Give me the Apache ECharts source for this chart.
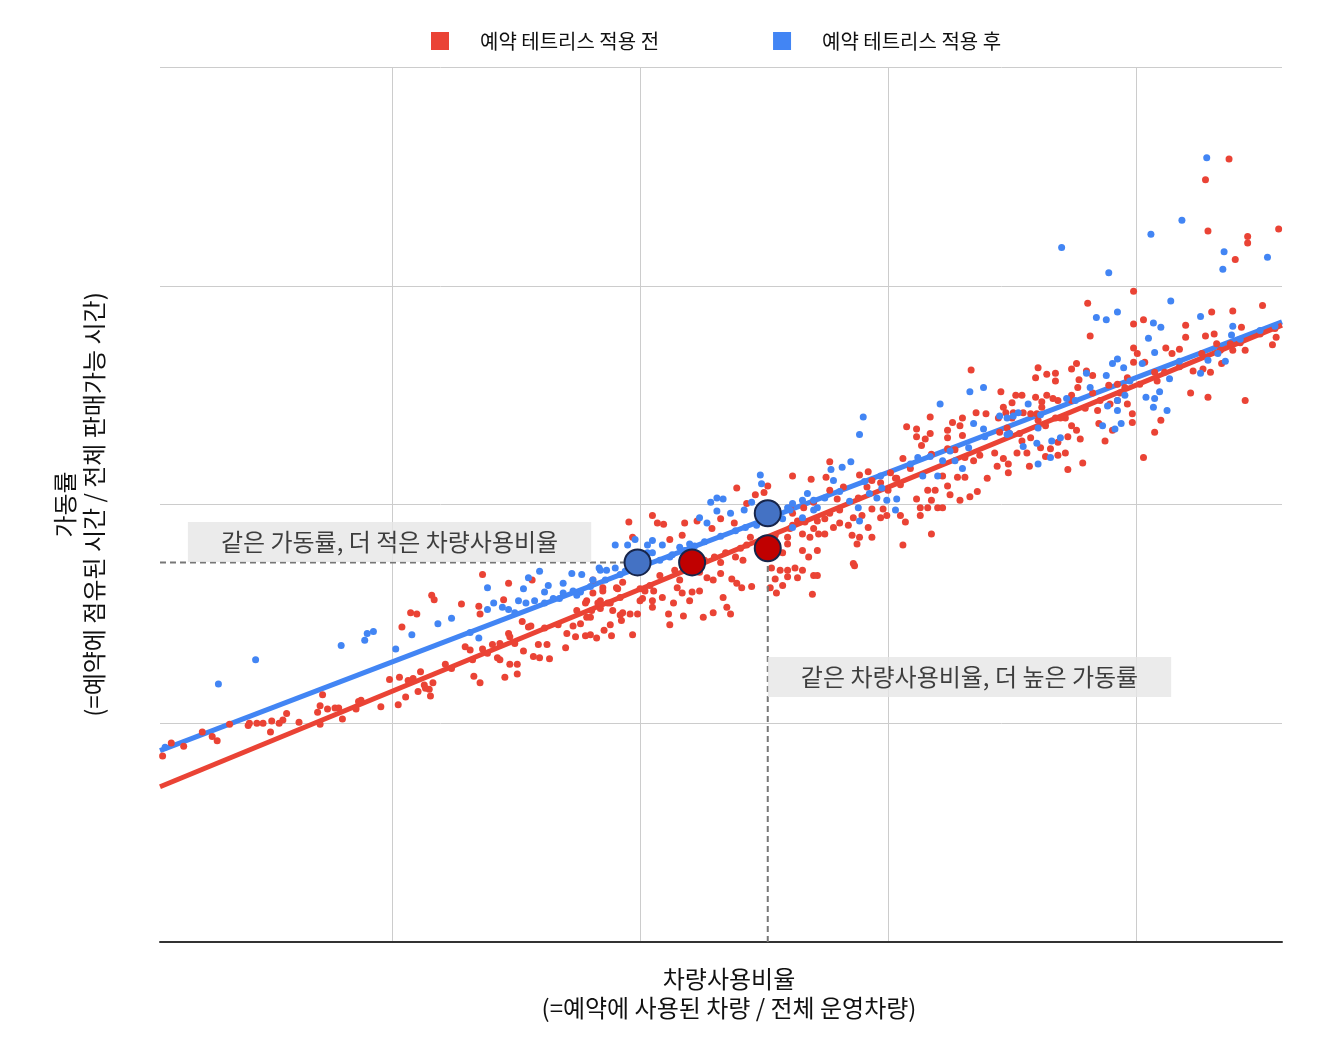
<!DOCTYPE html>
<html>
<head>
<meta charset="utf-8">
<title>예약 테트리스 적용 전후</title>
<script src="https://cdn.jsdelivr.net/npm/echarts@6/dist/echarts.min.js"></script>
<style>
  html, body { margin: 0; padding: 0; background: #fff; }
  #chart { width: 1326px; height: 1043px; }
</style>
</head>
<body>
<div id="chart"></div>
<script>
const FONT = '"Noto Sans CJK KR", "Noto Sans", sans-serif'

// 축 범위와 세로 격자 위치 (값 단위)
const X_MIN = 1.29
const X_MAX = 91.77
const X_GRID = [20, 40, 60, 80]
const Y_MIN = 0
const Y_MAX = 80

const SERIES_NAMES = ['예약 테트리스 적용 전', '예약 테트리스 적용 후']

// 적용 전 (빨강) [차량사용비율, 가동률]
const before = [
  [1.5,17.0],[2.2,18.2],[3.2,17.9],[4.7,19.2],[5.5,18.8],[5.9,18.4],[6.9,19.9],[8.4,19.8],[8.5,20.0],[9.1,20.0],
  [9.6,20.0],[10.2,19.2],[10.3,20.2],[10.9,20.0],[11.2,20.3],[11.5,20.9],[12.5,20.1],[14.0,21.0],[14.2,21.6],[14.4,22.6],
  [14.2,19.9],[14.8,21.3],[15.4,21.4],[15.7,21.4],[16.0,20.4],[17.1,21.3],[17.3,22.0],[17.5,22.1],[19.1,21.5],[19.8,24.0],
  [20.5,21.7],[20.6,24.2],[20.8,28.8],[21.1,22.4],[21.3,23.9],[21.7,24.1],[21.5,30.1],[22.0,30.0],[22.1,22.9],[22.3,24.7],
  [22.6,23.5],[23.0,23.1],[23.1,22.5],[23.2,31.7],[23.4,31.3],
  [27.3,33.6],[29.4,32.8],[31.3,33.1],[25.6,30.9],[27.0,30.7],[27.1,30.0],[29.0,31.3],[30.5,29.3],[31.0,28.8],[31.2,28.9],
  [29.4,28.2],[29.5,27.9],[28.7,27.3],[27.3,26.8],[27.7,26.4],[25.9,27.0],[26.3,26.7],[26.5,25.8],[28.5,26.0],[28.7,25.8],
  [29.5,25.4],[30.1,25.4],[30.6,26.6],[31.4,26.1],[31.9,26.0],[31.8,27.2],[32.5,27.2],[32.7,25.9],[30.1,24.5],[29.1,24.2],
  [26.6,24.3],[27.1,23.7],[23.3,23.7],[22.7,23.2],[34.0,26.9],[34.1,28.2],[34.8,27.9],[34.6,28.9],[35.2,29.1],[35.7,29.7],
  [36.1,30.3],[35.6,28.0],[36.0,28.1],[36.5,27.8],[37.1,28.5],[37.6,29.0],[37.8,30.3],[38.4,29.9],[38.5,29.4],[39.4,28.1],
  [39.2,30.0],[39.8,30.0],[36.8,31.2],[37.0,32.1],[35.7,31.2],[38.2,32.3],[38.6,32.9],[40.0,31.2],[40.4,32.1],[39.4,37.0],
  [39.1,38.4],[34.9,30.3],[24.3,25.4],[24.8,25.0],[28.1,27.2],[29.9,27.3],[32.3,28.7],[33.4,29.0],[36.8,30.5],[37.6,31.0],
  [41.0,39.0],[41.4,38.3],[41.9,38.2],[42.4,36.8],[43.4,37.2],[43.6,38.3],[44.6,38.5],[47.8,41.5],[49.3,40.9],[50.0,41.1],
  [50.3,41.7],[52.3,42.6],[53.8,42.3],[48.6,40.1],[47.6,38.3],[45.8,37.8],[46.5,38.7],[36.2,33.1],[37.0,32.4],[36.2,31.9],
  [35.6,31.0],[38.1,32.4],[36.6,31.0],[37.4,31.0],[41.0,31.2],[40.2,31.4],[38.4,31.5],[38.6,30.1],[36.0,29.7],[37.7,28.0],
  [42.3,30.0],[42.4,29.0],[43.5,29.8],[41.8,31.5],[42.7,31.0],[43.0,32.4],[41.0,30.6],[41.1,32.1],[44.0,31.2],[43.4,31.9],
  [45.1,29.7],[45.9,30.1],[44.2,32.0],[44.8,32.1],[46.7,31.5],[47.0,30.6],[47.3,30.0],[47.8,32.8],[48.2,32.4],[49.0,32.5],
  [45.4,33.3],[45.9,33.1],[46.5,33.7],[47.4,33.2],[48.3,34.9],[48.6,36.3],[48.9,37.0],[50.6,34.2],[51.3,34.0],[50.5,32.4],
  [51.5,32.6],[51.9,33.4],[51.0,31.9],[50.9,33.2],[52.7,33.3],[53.1,34.0],[54.0,33.5],[53.1,35.8],[53.6,35.2],[54.3,35.8],
  [53.9,31.8],[51.5,35.6],[51.9,36.4],[52.3,39.2],[52.1,39.7],[52.7,38.5],[53.7,37.0],[54.0,37.8],
  [41.6,33.5],[42.8,34.0],[44.0,34.4],[45.2,34.9],[46.0,35.2],[46.9,35.6],[48.1,36.0],[49.7,36.7],[50.9,37.2],[52.1,37.8],
  [53.3,38.4],[43.2,33.1],[44.8,33.8],[46.5,34.7],[47.7,35.2],[40.8,32.6],[40.0,32.3],
  [70.0,49.3],[61.5,47.1],[62.3,46.9],[63.0,46.0],[62.3,46.2],[63.4,46.5],[63.4,48.0],[62.7,45.4],[64.8,46.8],[65.2,47.5],
  [66.0,47.9],[65.8,47.2],[66.0,46.3],[64.8,46.1],[67.1,48.4],[67.9,48.3],[68.9,47.9],[69.3,48.9],[61.2,44.2],[61.8,43.3],
  [60.7,42.4],[63.5,44.6],[64.8,45.1],[65.4,45.0],[66.2,44.3],[65.6,42.5],[66.2,42.5],[66.9,44.0],[67.4,44.5],[68.6,44.7],
  [64.4,42.6],[64.8,41.7],[63.8,41.3],[63.2,41.3],[62.3,40.5],[62.6,39.7],[62.6,39.0],[63.2,39.7],[64.0,39.7],[64.4,39.7],
  [63.5,40.4],[65.0,40.9],[65.8,40.4],[66.6,40.7],[67.2,41.2],[68.0,42.4],[68.8,43.5],[69.3,44.2],[69.7,43.7],[70.4,44.7],
  [69.7,42.9],[63.5,37.3],[61.2,36.3],[55.0,42.5],[55.3,43.9],[57.7,42.7],[58.4,43.0],[58.7,42.2],[59.4,42.0],[60.2,42.9],
  [60.6,42.4],[61.0,41.8],[60.0,41.3],[55.3,41.3],[55.9,40.5],[56.4,41.6],[57.6,40.6],[58.3,41.6],[54.0,40.2],[53.2,39.7],
  [56.1,39.5],[55.3,39.2],[54.9,38.7],[54.3,38.5],[52.3,38.1],[57.2,38.8],[57.9,39.0],[58.7,39.6],[59.4,38.8],[59.9,39.0],
  [61.0,39.0],[61.4,38.4],[59.6,39.6],[55.6,37.9],[56.1,38.3],[56.8,38.1],[57.1,37.2],[57.7,37.0],[58.4,37.9],[57.5,36.4],
  [58.7,37.0],[54.4,37.3],[54.9,37.3],[53.1,37.3],[51.9,37.0],[52.5,34.2],[51.9,34.0],[54.3,33.5],[57.2,34.6],[57.3,34.4],
  [66.7,52.3],[69.1,50.3],[70.3,50.0],[69.5,48.4],
  [76.3,55.4],[79.8,54.3],[80.1,53.8],[79.8,53.0],[80.7,53.0],[82.4,54.3],[82.9,53.8],[83.5,54.2],[84.0,55.3],[85.6,55.4],
  [86.3,55.6],[85.3,53.8],[86.5,54.7],[86.9,52.9],[87.6,54.7],[87.8,54.1],[88.8,54.1],[91.0,54.6],[84.6,52.2],[85.4,52.4],
  [86.0,52.1],[84.4,50.2],[85.8,49.8],[88.8,49.5],[81.5,46.6],[82.0,47.7],[80.6,44.3],[79.3,51.6],[79.7,48.3],[79.7,47.5],
  [79.3,49.2],[81.7,51.3],[81.5,52.1],[72.1,52.5],[72.8,51.9],[73.5,52.0],[73.5,51.3],[71.9,51.6],[74.8,52.4],[75.2,52.9],
  [76.0,52.2],[76.5,51.8],[75.4,51.4],[75.3,50.7],[70.8,50.0],[71.9,49.8],[72.4,49.4],[72.8,50.0],[73.3,49.7],[73.7,49.5],
  [74.8,50.0],[74.8,49.5],[76.5,50.2],[70.1,48.4],[70.0,47.9],[70.9,48.4],[71.5,48.3],[72.0,48.3],[72.4,48.9],[72.1,47.7],
  [73.5,47.9],[74.3,47.9],[69.0,46.6],[69.6,47.0],[69.8,46.5],[70.8,45.8],[71.5,46.1],[74.8,47.2],[75.2,46.8],[75.5,46.0],
  [74.5,46.2],[76.9,48.6],[77.0,47.4],[77.5,45.8],[77.9,49.2],[78.1,46.8],[78.5,49.5],[72.3,45.2],[73.1,45.1],[73.7,45.7],
  [74.3,44.7],[73.7,44.5],[72.7,44.4],[71.2,44.7],[71.4,43.5],[74.5,43.2],[75.7,43.8],[77.8,50.9],[78.5,51.0],[79.1,50.7],
  [70.6,46.5],[72.7,47.2],[73.9,47.9],[75.9,48.8],[77.1,49.5],[78.7,50.2],[80.3,51.0],[82.3,52.1],[83.5,52.6],[86.8,54.1],
  [88.4,54.8],[90.0,55.6],[91.2,56.1],
  [87.5,71.6],[85.6,69.7],[85.8,65.0],[89.0,64.5],[89.0,63.9],[88.0,62.4],[91.5,65.2],[79.8,59.5],[76.1,58.4],[79.8,56.5],
  [80.6,56.9],[84.0,56.4],[86.1,57.6],[87.8,57.7],[90.2,58.2],[88.5,56.2],[91.3,55.3]
]

// 적용 후 (파랑)
const after = [
  [1.7,17.8],[6.0,23.6],[9.0,25.8],[15.9,27.1],[17.8,27.6],[18.0,28.2],[18.5,28.4],[20.3,26.8],[21.6,28.1],[23.7,29.1],
  [24.8,29.6],[27.0,27.8],[27.7,30.4],[28.2,31.0],[27.7,32.4],[28.9,30.6],[29.4,30.4],[30.2,31.2],[30.8,31.0],[30.6,32.3],
  [31.0,33.3],[31.5,31.2],[31.9,33.9],[32.3,32.0],[32.6,32.6],[33.0,31.4],[33.8,32.8],[33.8,31.9],[34.5,33.7],[35.3,33.6],
  [34.6,32.1],[35.2,32.0],[36.2,33.1],[36.8,34.0],[37.3,34.0],[38.0,34.2],[38.0,36.3],[39.0,36.3],[39.4,34.0],[40.6,36.3],
  [41.0,35.6],[26.3,28.3],[29.9,30.1],[32.3,31.0],[33.5,31.4],[34.9,31.7],[36.0,32.5],[37.2,33.1],[38.4,33.6],
  [49.7,42.7],[49.8,41.9],[45.7,40.2],[46.2,40.6],[46.7,40.5],[46.2,39.4],[47.3,39.2],[48.4,39.5],[49.0,40.2],[44.8,38.8],
  [45.4,38.3],[39.6,36.8],[41.0,36.7],[40.6,35.6],[42.6,35.4],[41.8,36.3],[36.7,34.2],[43.2,36.1],[44.0,36.4],[52.3,40.1],
  [53.1,40.4],[53.5,41.0],[54.0,40.4],[54.3,39.7],[51.5,38.7],[52.3,37.9],[49.4,38.1],
  [41.6,34.9],[42.4,35.2],[43.6,35.8],[44.4,36.2],[45.2,36.6],[46.5,37.1],[47.7,37.6],[48.5,37.9],[50.9,39.0],[52.1,39.5],
  [40.0,34.3],[38.8,33.9],
  [64.2,49.2],[58.0,48.0],[57.7,46.4],[57.0,43.9],[56.3,43.4],[55.4,43.2],[55.6,42.2],[51.9,39.7],[56.9,40.3],[57.6,39.7],
  [57.7,38.5],[58.5,41.0],[59.5,41.5],[59.1,40.6],[59.9,40.4],[60.7,40.5],[60.6,39.5],[62.4,44.3],[62.8,42.6],[64.0,42.6],
  [64.4,44.0],[65.4,44.0],[66.0,43.3],[66.5,45.2],[66.9,47.4],[67.7,46.9],[69.0,48.1],[70.1,48.1],[69.8,46.5],[54.0,39.5],
  [53.1,38.8],[54.9,40.6],[56.1,41.2],[58.1,42.1],[59.4,42.6],[61.8,43.7],[63.4,44.4],[65.0,44.9],[67.8,46.2],
  [66.6,50.3],[67.7,50.7],
  [81.0,55.2],[81.5,53.9],[80.5,52.9],[78.1,52.9],[78.5,53.3],[79.0,52.5],[77.6,51.8],[76.3,50.7],[76.0,52.0],[81.9,50.3],
  [81.5,49.7],[80.8,49.8],[81.4,48.9],[82.5,48.6],[82.7,51.5],[85.2,52.0],[85.8,53.2],[86.6,53.8],[87.2,53.1],[87.7,55.5],
  [88.4,55.1],[78.5,49.5],[78.5,48.6],[79.1,50.0],[77.7,49.0],[77.3,47.2],[78.3,46.9],[78.8,47.4],[74.4,49.7],[71.3,49.2],
  [70.5,48.4],[69.6,47.9],[69.6,46.4],[72.1,47.0],[72.0,45.6],[73.2,45.8],[73.9,46.1],[73.1,44.3],[72.1,43.7],[70.9,45.3],
  [72.3,48.2],[75.1,49.5],[79.5,51.3],[83.5,53.1],[90.0,55.9],[91.2,56.3],
  [85.7,71.7],[83.7,66.0],[81.2,64.7],[74.0,63.5],[77.8,61.2],[87.1,63.1],[87.0,61.5],[90.6,62.6],[82.8,58.6],[78.5,57.6],
  [76.8,57.1],[77.6,56.9],[81.4,56.6],[82.0,56.2],[85.2,57.2],[87.8,56.3]
]

// 추세선 끝점
const trendBefore = [[X_MIN, 14.2], [X_MAX, 56.4]]
const trendAfter = [[X_MIN, 17.5], [X_MAX, 56.7]]

// 강조 지점
const markAfter = [[39.8, 34.7], [50.3, 39.2]]
const markBefore = [[44.2, 34.7], [50.3, 36.0]]

// 보조 점선
const guideH = [[X_MIN, 34.7], [39.8, 34.7]]
const guideV = [[50.3, 0], [50.3, 36.0]]

// 주석
const notes = [
  { text: '같은 가동률, 더 적은 차량사용비율', at: [19.8, 34.7], pos: 'top' },
  { text: '같은 차량사용비율, 더 높은 가동률', at: [66.57, 26.1], pos: 'bottom' }
]

const RED = '#ea4335'
const BLUE = '#4285f4'
const INK = '#111'

function lineSeries(data, color, width, z, dash) {
  return {
    type: 'line', data, symbol: 'none', silent: true, z,
    lineStyle: { color, width, type: dash || 'solid' },
    emphasis: { disabled: true }
  }
}

function markSeries(data, color) {
  return {
    type: 'scatter', data, symbolSize: 26, z: 10, silent: true,
    itemStyle: { color, borderColor: '#17254a', borderWidth: 2, opacity: 1 }
  }
}

const chart = echarts.init(document.getElementById('chart'))

chart.setOption({
  animation: false,
  textStyle: { fontFamily: FONT },
  grid: { left: 160, right: 44, top: 67, bottom: 101, containLabel: false, outerBoundsMode: 'none' },
  legend: {
    data: SERIES_NAMES,
    left: 426, top: 26,
    icon: 'rect', itemWidth: 18, itemHeight: 18, itemGap: 114,
    textStyle: { fontSize: 20, color: INK, fontFamily: FONT, padding: [0, 0, 0, 26] }
  },
  xAxis: {
    type: 'value', min: X_MIN, max: X_MAX,
    name: '차량사용비율\n(=예약에 사용된 차량 / 전체 운영차량)',
    nameLocation: 'middle', nameGap: 22,
    nameTextStyle: { fontSize: 24, color: INK, lineHeight: 29, fontFamily: FONT, padding: [0, 0, 0, 16] },
    axisLine: { show: true, lineStyle: { color: '#333', width: 2 } },
    axisTick: { show: false, customValues: X_GRID },
    axisLabel: { show: false, customValues: X_GRID },
    splitLine: { show: true, lineStyle: { color: '#cccccc', width: 1 } }
  },
  yAxis: {
    type: 'value', min: Y_MIN, max: Y_MAX, interval: 20,
    name: '가동률\n(=예약에 점유된 시간 / 전체 판매가능 시간)',
    nameLocation: 'middle', nameGap: 52,
    nameTextStyle: { fontSize: 24, color: INK, lineHeight: 29, fontFamily: FONT },
    axisLine: { show: false },
    axisTick: { show: false },
    axisLabel: { show: false },
    splitLine: { show: true, lineStyle: { color: '#cccccc', width: 1 } }
  },
  series: [
    lineSeries(trendAfter, BLUE, 5, 1),
    lineSeries(trendBefore, RED, 5, 1),
    {
      name: SERIES_NAMES[0], type: 'scatter', data: before, symbolSize: 7, z: 2,
      itemStyle: { color: RED, opacity: 1 }
    },
    {
      name: SERIES_NAMES[1], type: 'scatter', data: after, symbolSize: 7, z: 3,
      itemStyle: { color: BLUE, opacity: 1 }
    },
    lineSeries(guideH, '#777', 2, 4, [6, 4]),
    lineSeries(guideV, '#777', 2, 4, [6, 4]),
    {
      type: 'scatter', z: 5, silent: true, symbolSize: 1,
      itemStyle: { color: 'rgba(0,0,0,0)' },
      data: notes.map(n => ({
        value: n.at,
        label: {
          show: true, position: n.pos, distance: 0, formatter: n.text,
          fontSize: 24, lineHeight: 24, color: INK, fontFamily: FONT,
          backgroundColor: '#e6e6e6', padding: [8, 33, 8, 33]
        }
      }))
    },
    markSeries(markAfter, '#4472c4'),
    markSeries(markBefore, '#c00000')
  ]
})
</script>
</body>
</html>
